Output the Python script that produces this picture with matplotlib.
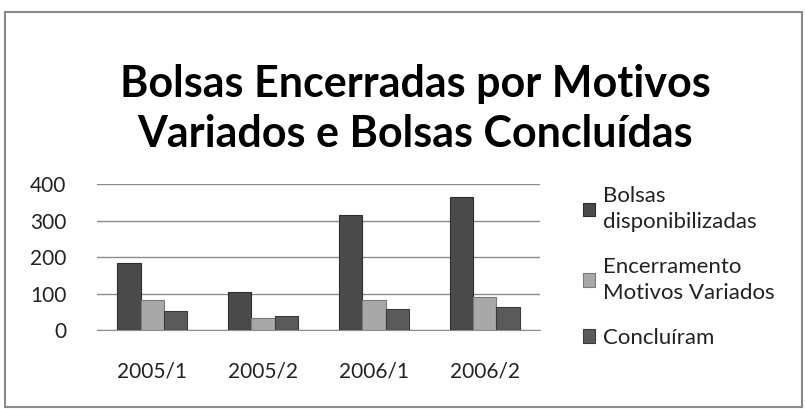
import matplotlib
matplotlib.use("Agg")
import matplotlib.pyplot as plt
import numpy as np
from matplotlib.patches import Rectangle

plt.rcParams['font.family'] = ['Lato', 'DejaVu Sans']

categories = ["2005/1", "2005/2", "2006/1", "2006/2"]
series_names = ["Bolsas\ndisponibilizadas", "Encerramento\nMotivos Variados", "Concluíram"]
bolsas = [183, 104, 315, 364]
encerramento = [82, 34, 82, 90]
concluiram = [51, 37, 58, 64]
yticks = [0, 100, 200, 300, 400]

colors = ["#4a4a4a", "#a8a8a8", "#5a5a5a"]
edges = ["#2e2e2e", "#7a7a7a", "#3a3a3a"]

fig = plt.figure(figsize=(8.05, 4.09), dpi=100)
fig.patch.set_facecolor("white")
fig.add_artist(Rectangle((5/805, 0.005), 0.99, 1 - 12/409 - 0.005, transform=fig.transFigure,
                         fill=False, edgecolor="#8a8a8a", linewidth=1.5))

ax = fig.add_axes([97/805, 1 - 330/409, (540 - 97)/805, (330 - 184)/409])
x = np.arange(len(categories))
w = 0.21
for i, vals in enumerate([bolsas, encerramento, concluiram]):
    ax.bar(x + (i - 1) * w, vals, w, color=colors[i], edgecolor=edges[i], linewidth=0.8,
           label=series_names[i], zorder=3)

ax.set_xlim(-0.5, 3.5)
ax.set_ylim(0, 400)
ax.set_yticks(yticks)
ax.set_xticks(x)
ax.set_xticklabels(categories)
ax.tick_params(axis='both', length=0, labelsize=15, colors="#222222")
ax.tick_params(axis='y', pad=22)
ax.tick_params(axis='x', pad=23)
ax.grid(axis='y', color="#8c8c8c", linewidth=1, zorder=0)
for s in ["left", "right", "top"]:
    ax.spines[s].set_visible(False)
ax.spines["bottom"].set_color("#8c8c8c")

fig.text(415/805, 1 - 84/409, "Bolsas Encerradas por Motivos", ha="center", va="center",
         fontsize=31, fontweight="bold", color="#000000")
fig.text(415/805, 1 - 134/409, "Variados e Bolsas Concluídas", ha="center", va="center",
         fontsize=31, fontweight="bold", color="#000000")

leg = fig.legend(loc="upper left", bbox_to_anchor=(563/805, 1 - 166/409), frameon=False,
                 fontsize=16, handlelength=0.55, handleheight=0.55, handletextpad=0.35,
                 labelspacing=1.1, labelcolor="#222222")
for t in leg.get_texts():
    t.set_linespacing(1.4)

fig.savefig("out.png", dpi=100)
